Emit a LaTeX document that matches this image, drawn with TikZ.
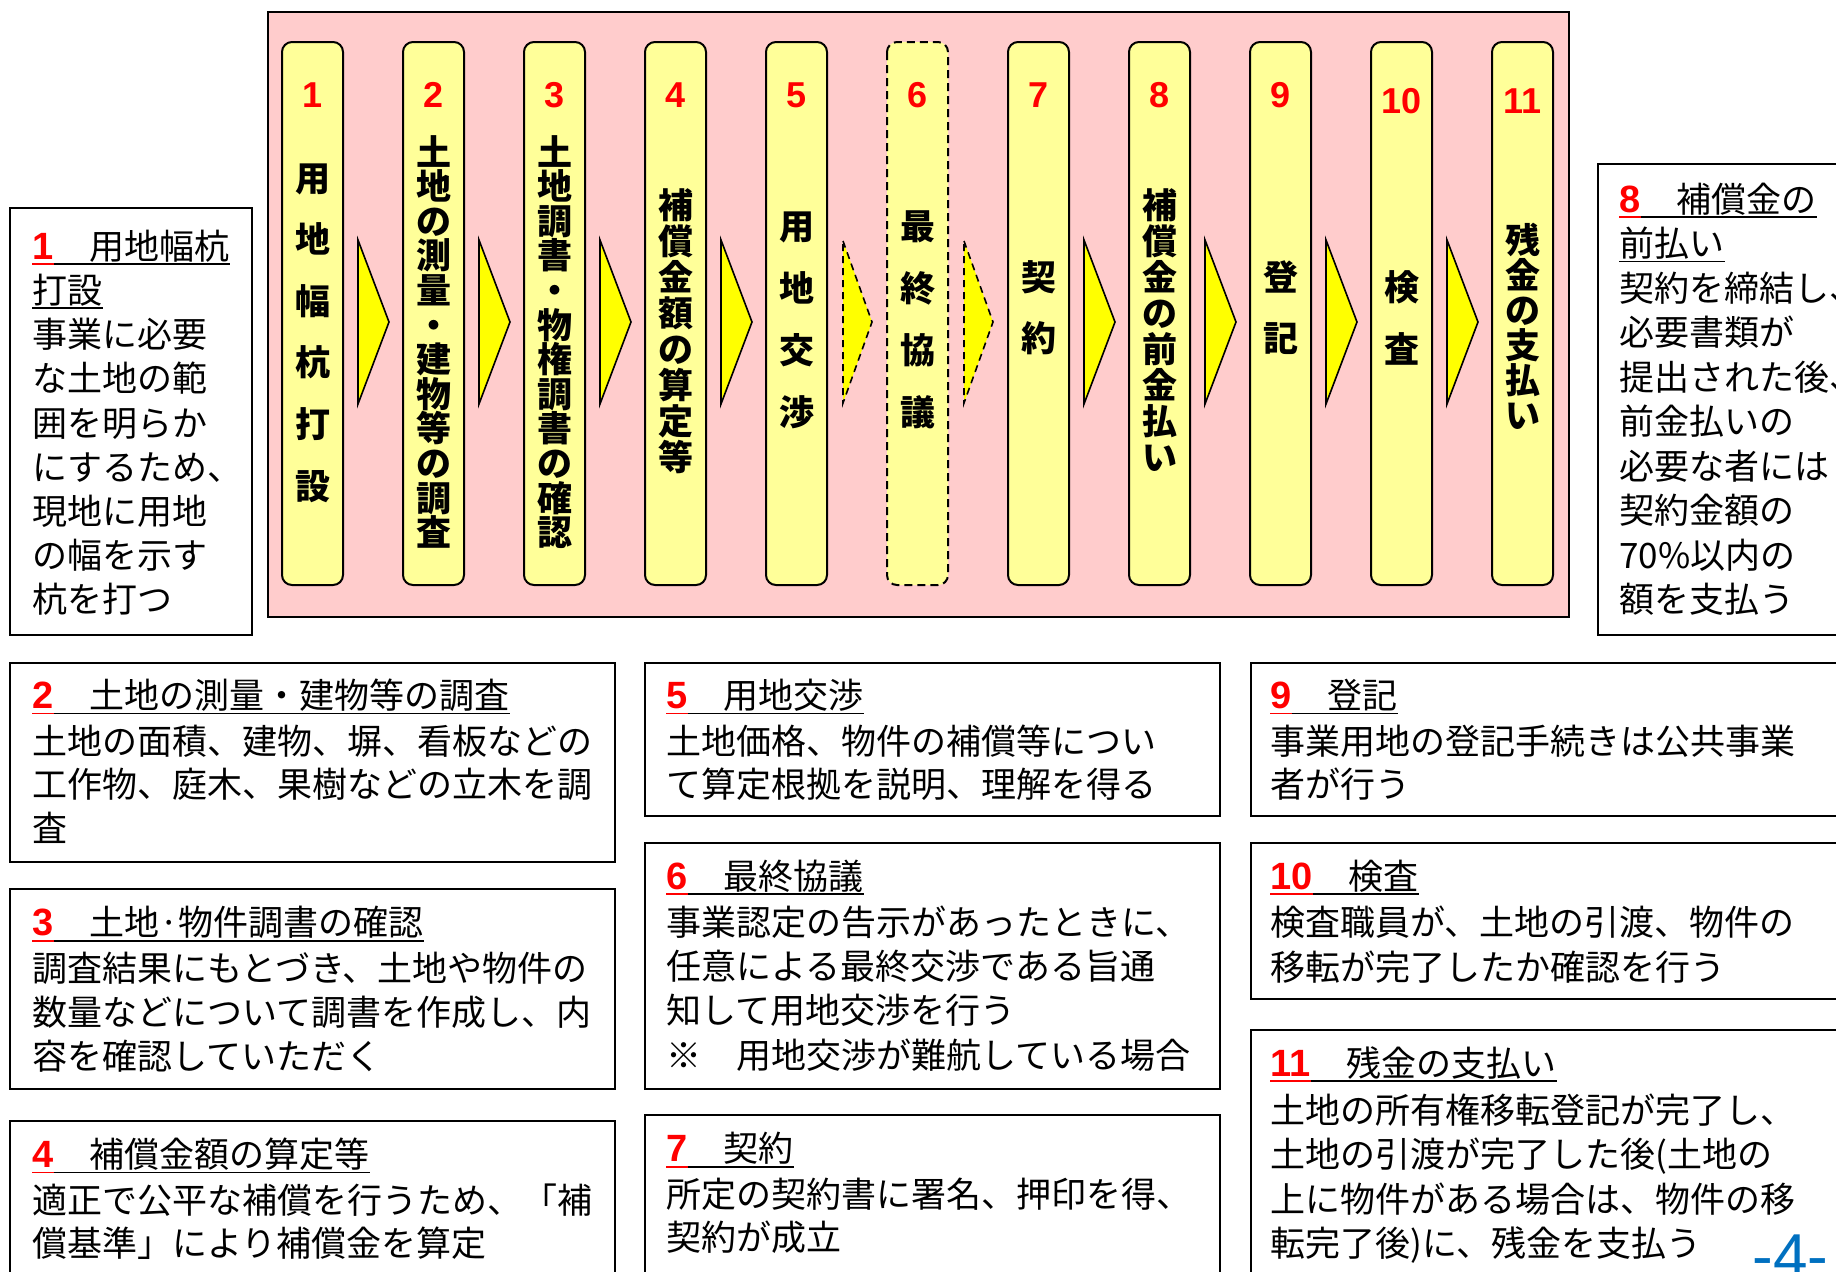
\documentclass[tikz,border=0pt]{standalone}
\usepackage{fontspec}
\setmainfont{Noto Sans CJK JP}
\newfontfamily\arialf{Liberation Sans}
\definecolor{pinkbg}{RGB}{255,204,204}
\definecolor{colyel}{RGB}{255,255,153}
\definecolor{arryel}{RGB}{255,255,0}
\definecolor{numred}{RGB}{255,0,0}
\definecolor{pgblue}{RGB}{0,112,192}
\tikzset{
  colbox/.style={draw=black, line width=1pt, fill=colyel, rounded corners=5pt},
  arrowtri/.style={draw=black, line width=0.8pt, fill=arryel, line join=miter},
  txtbox/.style={draw=black, line width=0.75pt},
  body/.style={anchor=base west, inner sep=0pt, font=\fontsize{17.5}{22}\selectfont},
  tnum/.style={anchor=base west, inner sep=0pt, text=numred, font=\arialf\bfseries\fontsize{19}{19}\selectfont},
  cnum/.style={anchor=base, inner sep=0pt, text=numred, font=\arialf\bfseries\fontsize{18}{18}\selectfont},
  coltext/.style={anchor=base, inner sep=0pt, font=\fontsize{17.5}{17.5}\selectfont\bfseries},
  uline/.style={line width=0.9pt},
}
\newcommand\mkvcol[5]{%
  \foreach \ch [count=\k] in {#5} \node[coltext] (#1-\k) at (#2,{#3+#4*(\k-1)}) {\ch};}
\newcommand\mklines[5]{%
  \foreach \t [count=\k] in {#5} \node[body] (#1-\k) at (#2,{#3+#4*(\k-1)}) {\t};}
\newcommand\mktitle[5]{%
  \node[tnum] (#1n) at (#2,#3) {#4};
  \node[body] (#1t) at (#1n.base east) {　#5};
  \draw[numred, uline] ([yshift=-2.5pt]#1n.base west) -- ([yshift=-2.5pt]#1n.base east);
  \draw[uline] ([yshift=-2.5pt]#1t.base west) -- ([yshift=-2.5pt]#1t.base east);}
\newcommand\mkuline[4]{%
  \node[body] (#1) at (#2,#3) {#4};
  \draw[uline] ([yshift=-2.5pt]#1.base west) -- ([yshift=-2.5pt]#1.base east);}
\begin{document}
\begin{tikzpicture}[x=0.5pt,y=-0.5pt]
\useasboundingbox (0,0) rectangle (1836,1271);
\clip (0,0) rectangle (1836,1271);
\fill[white] (0,0) rectangle (1836,1271);
% pink frame
\draw[draw=black, line width=1pt, fill=pinkbg] (268,12) rectangle (1569,617);
% columns
\foreach \i in {1,...,11}{
  \pgfmathsetmacro{\cx}{312.5+121*(\i-1)}
  \ifnum\i=6
    \draw[colbox, dash pattern=on 4pt off 2.5pt] (\cx-30.5,42) rectangle (\cx+30.5,585);
  \else
    \draw[colbox] (\cx-30.5,42) rectangle (\cx+30.5,585);
  \fi
  \ifnum\i<10
    \node[cnum] (num\i) at (\cx,107) {\i};
  \else
    \node[cnum] (num\i) at (\cx,113) {\i};
  \fi
}
% arrows
\foreach \i in {1,...,10}{
  \pgfmathsetmacro{\ax}{312.5+121*(\i-1)+60.5}
  \ifnum\i=5
    \draw[arrowtri, dash pattern=on 3.5pt off 2.5pt] (\ax-14,241) -- (\ax+15,322) -- (\ax-14,403) -- cycle;
  \else\ifnum\i=6
    \draw[arrowtri, dash pattern=on 3.5pt off 2.5pt] (\ax-14,241) -- (\ax+15,322) -- (\ax-14,403) -- cycle;
  \else
    \draw[arrowtri] (\ax-15,240) -- (\ax+16,322) -- (\ax-15,404) -- cycle;
  \fi\fi
}
% column texts
\mkvcol{ca}{312.5}{191}{61.6}{用,地,幅,杭,打,設}
\mkvcol{cb}{433.5}{165}{34.6}{土,地,の,測,量,・,建,物,等,の,調,査}
\mkvcol{cc}{554.5}{165}{34.6}{土,地,調,書,・,物,権,調,書,の,確,認}
\mkvcol{cd}{675.5}{218}{36}{補,償,金,額,の,算,定,等}
\mkvcol{ce}{796.5}{239}{62}{用,地,交,渉}
\mkvcol{cf}{917.5}{239}{62}{最,終,協,議}
\mkvcol{cg}{1038.5}{290}{61}{契,約}
\mkvcol{ch}{1159.5}{218}{36}{補,償,金,の,前,金,払,い}
\mkvcol{ci}{1280.5}{290}{61}{登,記}
\mkvcol{cj}{1401.5}{300}{62}{検,査}
\mkvcol{ck}{1522.5}{253}{35}{残,金,の,支,払,い}
% side box 1
\draw[txtbox] (10,208) rectangle (252,635);
\mktitle{ta}{32}{259}{1}{用地幅杭}
\mkuline{tatwo}{32}{303}{打設}
\mklines{la}{32}{347.6}{44.2}{事業に必要,な土地の範,囲を明らか,にするため、,現地に用地,の幅を示す,杭を打つ}
% side box 8
\draw[txtbox] (1598,164) rectangle (1860,635);
\mktitle{th}{1619}{212}{8}{補償金の}
\mkuline{thtwo}{1619}{256.5}{前払い}
\mklines{lh}{1619}{301}{44.5}{契約を締結し、,必要書類が,提出された後、,前金払いの,必要な者には,契約金額の,70\%以内の,額を支払う}
% box 2
\draw[txtbox] (10,663) rectangle (615,862);
\mktitle{tb}{32}{708.5}{2}{土地の測量・建物等の調査}
\mklines{lb}{32}{754}{43.5}{土地の面積、建物、塀、看板などの,工作物、庭木、果樹などの立木を調,査}
% box 3
\draw[txtbox] (10,889) rectangle (615,1089);
\mktitle{tc}{32}{935.7}{3}{土地·物件調書の確認}
\mklines{lc}{32}{981}{44}{調査結果にもとづき、土地や物件の,数量などについて調書を作成し、内,容を確認していただく}
% box 4
\draw[txtbox] (10,1121) rectangle (615,1300);
\mktitle{td}{32}{1167.5}{4}{補償金額の算定等}
\mklines{ld}{32}{1213}{43.5}{適正で公平な補償を行うため、「補,償基準」により補償金を算定}
% box 5
\draw[txtbox] (645,663) rectangle (1220,816);
\mktitle{te}{666}{708.5}{5}{用地交渉}
\mklines{le}{666}{754}{43.5}{土地価格、物件の補償等につい,て算定根拠を説明、理解を得る}
% box 6
\draw[txtbox] (645,843) rectangle (1220,1089);
\mktitle{tf}{666}{889}{6}{最終協議}
\mklines{lf}{666}{935.7}{44.1}{事業認定の告示があったときに、,任意による最終交渉である旨通,知して用地交渉を行う,※　用地交渉が難航している場合}
% box 7
\draw[txtbox] (645,1115) rectangle (1220,1300);
\mktitle{tg}{666}{1161.7}{7}{契約}
\mklines{lg}{666}{1207}{43.6}{所定の契約書に署名、押印を得、,契約が成立}
% box 9
\draw[txtbox] (1251,663) rectangle (1860,816);
\mktitle{ti}{1270}{708.5}{9}{登記}
\mklines{li}{1270}{754}{43.5}{事業用地の登記手続きは公共事業,者が行う}
% box 10
\draw[txtbox] (1251,843) rectangle (1860,999);
\mktitle{tj}{1270}{889}{10}{検査}
\mklines{lj}{1270}{935.7}{44.3}{検査職員が、土地の引渡、物件の,移転が完了したか確認を行う}
% box 11
\draw[txtbox] (1251,1030) rectangle (1860,1300);
\mktitle{tk}{1270}{1076}{11}{残金の支払い}
\mklines{lk}{1270}{1123}{44.5}{土地の所有権移転登記が完了し、,土地の引渡が完了した後(土地の,上に物件がある場合は、物件の移,転完了後)に、残金を支払う}
% page number
\node[anchor=base west, inner sep=0pt, text=pgblue, font=\arialf\fontsize{31}{31}\selectfont] (pgnum) at (1752,1277) {-4-};
\end{tikzpicture}
\end{document}
